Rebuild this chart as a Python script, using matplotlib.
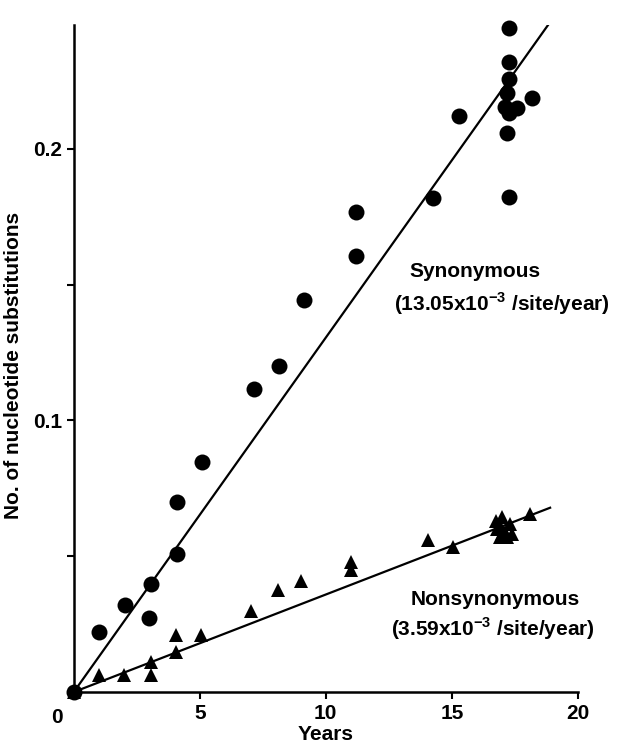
import matplotlib.pyplot as plt
import numpy as np

plt.rcParams['font.family'] = ['Liberation Sans', 'DejaVu Sans']
plt.rcParams['font.weight'] = 'bold'
plt.rcParams['mathtext.fontset'] = 'custom'
plt.rcParams['mathtext.rm'] = 'Liberation Sans:bold'
plt.rcParams['mathtext.bf'] = 'Liberation Sans:bold'

# synonymous substitutions (circles)
syn_years = [0, 1.0, 2.05, 3.05, 3.0, 4.1, 4.1, 5.1, 7.15, 8.15, 9.15, 11.2, 11.2,
             14.25, 15.3, 17.25, 17.25, 17.25, 17.2, 17.1, 17.6, 17.25, 18.2, 17.2, 17.25]
syn_values = [0, 0.022, 0.032, 0.0397, 0.0272, 0.051, 0.0699, 0.0846, 0.1114, 0.1202, 0.1445,
              0.1768, 0.1607, 0.182, 0.212, 0.2445, 0.232, 0.2257, 0.2206, 0.2154, 0.215,
              0.213, 0.2188, 0.206, 0.1824]

# nonsynonymous substitutions (triangles)
non_years = [0, 1.0, 2.0, 3.05, 3.05, 4.05, 4.05, 5.05, 7.05, 8.1, 9.0, 11.0, 11.0,
             14.05, 15.05, 16.75, 17.0, 17.3, 16.8, 17.0, 17.2, 16.9, 17.1, 17.4, 16.9, 18.1]
non_values = [0, 0.0063, 0.0063, 0.0063, 0.011, 0.0147, 0.021, 0.021, 0.030, 0.0375, 0.041,
              0.048, 0.045, 0.056, 0.0535, 0.063, 0.0645, 0.062, 0.060, 0.058, 0.057,
              0.061, 0.059, 0.058, 0.057, 0.0654]

syn_rate = 13.05e-3
non_rate = 3.59e-3
line_end = 18.9

fig = plt.figure(figsize=(6.2, 7.47), dpi=100)
ax = fig.add_axes([0.119, 0.0736, 0.813, 0.893])

xl = np.array([0, line_end])
ax.plot(xl, syn_rate * xl, color='black', lw=1.6, zorder=2)
ax.plot(xl, non_rate * xl, color='black', lw=1.6, zorder=2)
ax.plot(syn_years, syn_values, 'o', color='black', ms=11.5, mew=0, zorder=3, clip_on=False)
ax.plot(non_years, non_values, '^', color='black', ms=10, mew=0, zorder=3, clip_on=False)

ax.set_xlim(0, 20)
ax.set_ylim(0, 0.2456)
ax.set_xticks([5, 10, 15, 20])
ax.set_yticks([0.05, 0.1, 0.15, 0.2])
ax.set_yticklabels(['', '0.1', '', '0.2'])
ax.tick_params(labelsize=15, width=1.5, length=5)
ax.text(-0.65, -0.006, '0', ha='center', va='top', fontsize=15, fontweight='bold')

for s in ['top', 'right']:
    ax.spines[s].set_visible(False)
for s in ['left', 'bottom']:
    ax.spines[s].set_linewidth(1.8)

ax.set_xlabel('Years', fontsize=15, fontweight='bold')
ax.set_ylabel('No. of nucleotide substitutions', fontsize=15, fontweight='bold')
ax.xaxis.set_label_coords(0.5, -0.05)
ax.yaxis.set_label_coords(-0.1, 0.49)

ax.text(13.3, 0.1548, 'Synonymous', fontsize=15, fontweight='bold', va='center')
ax.text(12.7, 0.1428, r'(13.05x10$^{-3}$ /site/year)', fontsize=15, fontweight='bold', va='center')
ax.text(13.35, 0.0342, 'Nonsynonymous', fontsize=15, fontweight='bold', va='center')
ax.text(12.6, 0.0232, r'(3.59x10$^{-3}$ /site/year)', fontsize=15, fontweight='bold', va='center')

fig.savefig('out.png', dpi=100)
